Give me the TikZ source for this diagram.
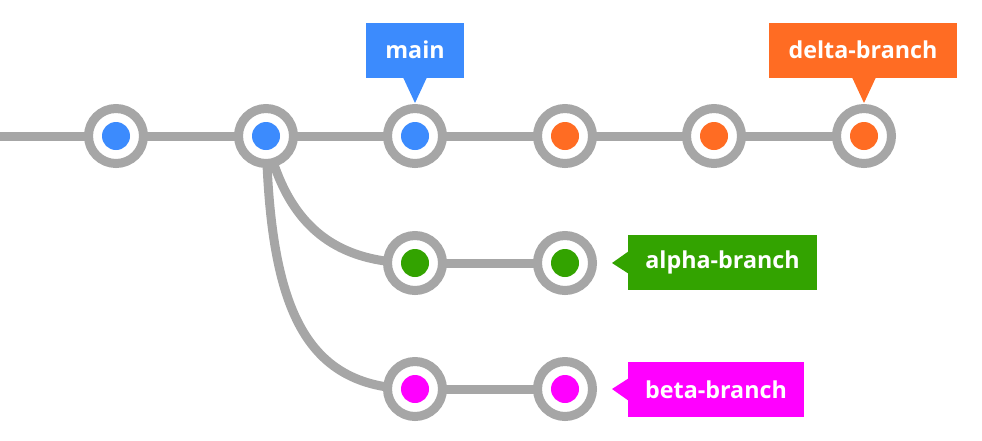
\documentclass[tikz,border=0pt]{standalone}
\usepackage{fontspec}
\setmainfont{Open Sans}
\usetikzlibrary{calc}
\definecolor{cgray}{HTML}{A6A6A6}
\definecolor{cblue}{HTML}{3C8BFD}
\definecolor{corange}{HTML}{FF6C23}
\definecolor{cgreen}{HTML}{33A300}
\definecolor{cmagenta}{HTML}{FF00FF}
\tikzset{
  commit/.style={circle, draw=cgray, line width=9pt, fill=white, minimum size=55pt, inner sep=0pt},
  dotmark/.style={circle, fill=#1, minimum size=28pt, inner sep=0pt},
  edge/.style={draw=cgray, line width=9pt},
  tag/.style={fill=#1, text=white, font=\bfseries\fontsize{23.3}{26}\selectfont, inner sep=0pt, minimum height=55pt},
}
\begin{document}
\begin{tikzpicture}[x=1pt,y=-1pt]
\useasboundingbox (0,0) rectangle (982,440);
% commits positions
\coordinate (start) at (0,136);
\coordinate (p1) at (116,136);
\coordinate (p2) at (266,136);
\coordinate (p3) at (415,136);
\coordinate (p4) at (565,136);
\coordinate (p5) at (714,136);
\coordinate (p6) at (864,136);
\coordinate (a1) at (415,263);
\coordinate (a2) at (565,263);
\coordinate (b1) at (415,389);
\coordinate (b2) at (565,389);
% edges
\draw[edge] (start) -- (p6);
\draw[edge] (a1) -- (a2);
\draw[edge] (b1) -- (b2);
\draw[edge] (p2) .. controls (285,220) and (330,263) .. (a1);
\draw[edge] (p2) .. controls (270,300) and (300,389) .. (b1);
% commit nodes
\foreach \n/\c in {p1/cblue,p2/cblue,p3/cblue,p4/corange,p5/corange,p6/corange,a1/cgreen,a2/cgreen,b1/cmagenta,b2/cmagenta}{
  \node[commit] (n\n) at (\n) {};
  \node[dotmark=\c] (d\n) at (n\n) {};
}
% labels
\node[tag=cblue, minimum width=98pt] (main) at (415,50) {main};
\fill[cblue] ($(main.south)+(-12,-0.5)$) -- ($(main.south)+(12,-0.5)$) -- ($(np3.north)+(0,-1)$) -- cycle;
\node[tag=corange, minimum width=188pt] (delta) at (863,50) {delta-branch};
\fill[corange] ($(delta.south)+(-11,-0.5)$) -- ($(delta.south)+(13,-0.5)$) -- ($(np6.north)+(0,-1)$) -- cycle;
\node[tag=cgreen, minimum width=189pt] (alpha) at (722.5,262.5) {alpha-branch};
\fill[cgreen] ($(alpha.west)+(0.5,-11)$) -- ($(alpha.west)+(0.5,11)$) -- (612,263) -- cycle;
\node[tag=cmagenta, minimum width=176pt] (beta) at (716,389.5) {beta-branch};
\fill[cmagenta] ($(beta.west)+(0.5,-11)$) -- ($(beta.west)+(0.5,11)$) -- (612,389) -- cycle;
\end{tikzpicture}
\end{document}
